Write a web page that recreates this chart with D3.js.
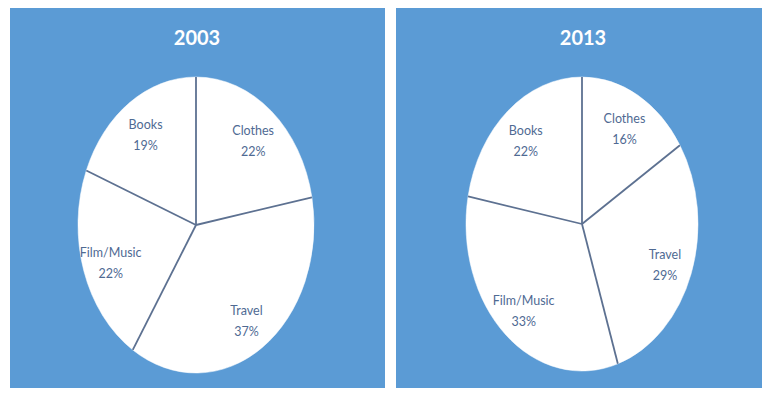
<!DOCTYPE html>
<html>
<head>
<meta charset="utf-8">
<script src="https://cdn.jsdelivr.net/npm/d3@7"></script>
<style>
  body { margin: 0; background: #fff; }
  svg { display: block; }
</style>
</head>
<body>
<div id="chart"></div>
<script>
// Shares by category, same order as the slices (clockwise from 12 o'clock)
var categories = ['Clothes', 'Travel', 'Film/Music', 'Books'];
var values2003 = [22, 37, 22, 19];
var values2013 = [16, 29, 33, 22];
var years = ['2003', '2013'];

var svg = d3.select('#chart').append('svg')
  .attr('width', 765)
  .attr('height', 395);

// one panel per year
var panels = [
  { year: years[0], values: values2003, x: 10, w: 375, cx: 196, cy: 225, rx: 118, ry: 148 },
  { year: years[1], values: values2013, x: 396, w: 366, cx: 582, cy: 224, rx: 116, ry: 147 }
];

var pie = d3.pie().sort(null).value(function(d) { return d; });
var r = 100;
var arc = d3.arc().innerRadius(0).outerRadius(r);
var labelArc = d3.arc().innerRadius(r * 0.76).outerRadius(r * 0.76);

panels.forEach(function(p) {
  var g = svg.append('g');

  g.append('rect')
    .attr('x', p.x)
    .attr('y', 8)
    .attr('width', p.w)
    .attr('height', 380)
    .style('fill', '#5b9bd5');

  g.append('text')
    .attr('x', p.cx + 1)
    .attr('y', 45)
    .attr('text-anchor', 'middle')
    .style('font-family', 'Lato, "Open Sans", sans-serif')
    .style('font-weight', 'bold')
    .style('font-size', '20px')
    .style('fill', '#fff')
    .text(p.year);

  var arcs = pie(p.values);

  // pie is squashed into an ellipse, like the original
  var sx = p.rx / r, sy = p.ry / r;
  var pg = g.append('g')
    .attr('transform', 'translate(' + p.cx + ',' + p.cy + ') scale(' + sx + ',' + sy + ')');

  pg.selectAll('path')
    .data(arcs)
    .enter()
    .append('path')
    .attr('d', arc)
    .style('fill', '#fff')
    .style('stroke', '#fff')
    .style('stroke-width', 0.5)
    .attr('vector-effect', 'non-scaling-stroke');

  // separators only, no outline round the pie
  g.selectAll('.sep')
    .data(arcs)
    .enter()
    .append('line')
    .attr('x1', p.cx)
    .attr('y1', p.cy)
    .attr('x2', function(d) { return p.cx + Math.sin(d.startAngle) * p.rx; })
    .attr('y2', function(d) { return p.cy - Math.cos(d.startAngle) * p.ry; })
    .style('stroke', '#5d7191')
    .style('stroke-width', 1.8);

  var labels = g.selectAll('.lbl')
    .data(arcs)
    .enter()
    .append('text')
    .attr('text-anchor', 'middle')
    .style('font-family', 'Lato, "Open Sans", sans-serif')
    .style('font-size', '12.5px')
    .style('fill', '#4f6a93')
    .attr('transform', function(d) {
      var c = labelArc.centroid(d);
      return 'translate(' + (p.cx + c[0] * sx) + ',' + (p.cy + c[1] * sy) + ')';
    });

  labels.append('tspan')
    .attr('x', 0)
    .attr('y', -3)
    .text(function(d, i) { return categories[i]; });
  labels.append('tspan')
    .attr('x', 0)
    .attr('y', 18)
    .text(function(d) { return d.data + '%'; });
});
</script>
</body>
</html>
